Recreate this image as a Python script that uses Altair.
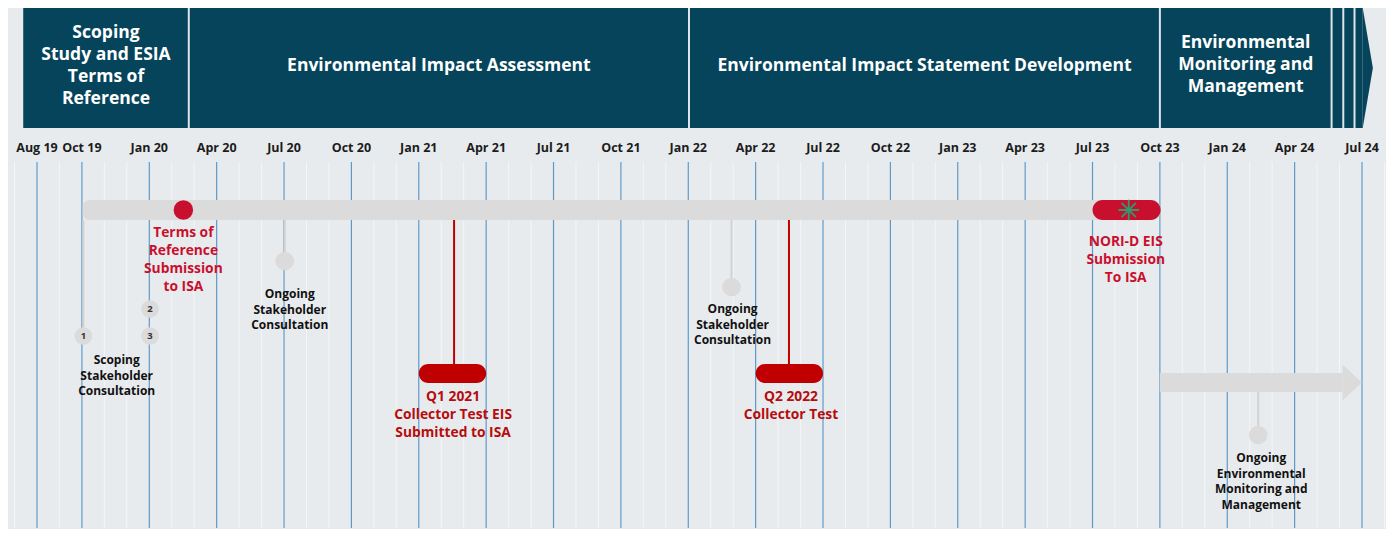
import calendar
import altair as alt
import pandas as pd

# ---------------------------------------------------------------- data
tick_labels = ["Aug 19", "Oct 19", "Jan 20", "Apr 20", "Jul 20", "Oct 20", "Jan 21",
               "Apr 21", "Jul 21", "Oct 21", "Jan 22", "Apr 22", "Jul 22", "Oct 22",
               "Jan 23", "Apr 23", "Jul 23", "Oct 23", "Jan 24", "Apr 24", "Jul 24"]
tick_dates = ["2019-08-01", "2019-10-01", "2020-01-01", "2020-04-01", "2020-07-01",
              "2020-10-01", "2021-01-01", "2021-04-01", "2021-07-01", "2021-10-01",
              "2022-01-01", "2022-04-01", "2022-07-01", "2022-10-01", "2023-01-01",
              "2023-04-01", "2023-07-01", "2023-10-01", "2024-01-01", "2024-04-01",
              "2024-07-01"]

phase_names = ["Scoping\nStudy and ESIA\nTerms of\nReference",
               "Environmental Impact Assessment",
               "Environmental Impact Statement Development",
               "Environmental\nMonitoring and\nManagement", "", "", ""]
phase_starts = ["2019-07-13", "2020-02-23", "2022-01-02", "2023-10-01",
                "2024-05-21", "2024-06-06", "2024-06-21"]
phase_ends = ["2020-02-23", "2022-01-02", "2023-10-01", "2024-05-21",
              "2024-06-06", "2024-06-21", "2024-07-02"]
phase_tip = "2024-07-16"

timeline_start = "2019-10-02"
timeline_end = "2023-10-01"
monitoring_start = "2023-10-01"
monitoring_head = "2024-06-05"
monitoring_end = "2024-07-01"

# milestones
tor_label = "Terms of\nReference\nSubmission\nto ISA"
tor_date = "2020-02-16"

test_labels = ["Q1 2021\nCollector Test EIS\nSubmitted to ISA", "Q2 2022\nCollector Test"]
test_dates = ["2021-02-17", "2022-05-16"]
test_window_start = ["2021-01-01", "2022-04-01"]
test_window_end = ["2021-04-01", "2022-07-01"]

nori_label = "NORI-D EIS\nSubmission\nTo ISA"
nori_date = "2023-08-20"
nori_window_start = "2023-07-01"
nori_window_end = "2023-10-02"

# consultations
scoping_numbers = ["1", "2", "3"]
scoping_dates = ["2019-10-03", "2020-01-02", "2020-01-02"]
scoping_label = "Scoping\nStakeholder\nConsultation"

ongoing_labels = ["Ongoing\nStakeholder\nConsultation",
                  "Ongoing\nStakeholder\nConsultation",
                  "Ongoing\nEnvironmental\nMonitoring and\nManagement"]
ongoing_dates = ["2020-07-02", "2022-02-27", "2024-02-12"]

# ---------------------------------------------------------------- style / layout
BG = "#e8ebed"
TEAL = "#05445b"
GAP = "#dfe6ea"
CRIMSON = "#c8102e"
RED = "#c00000"
GREY = "#dbdbdb"
STEM = "#d2d2d2"
BLUE = "#5e98c6"
FAINT = "#f3f5f6"
GREEN = "#2f9a6c"
FONT = "Open Sans"

W, H = 1378, 521
PX = 1325 / 59                     # pixels per month
X0 = -29 / PX
X1 = X0 + W / PX

Y_HEAD_TOP, Y_HEAD_BOT = 8, 128
header_first_line_y = [33, 66, 66, 43]
Y_TICK = 148
Y_GRID_TOP, Y_GRID_BOT = 162, 528
Y_BAR, BAR_H = 210, 20
Y_PILL, PILL_H = 373.5, 19
Y_ARROW, ARROW_H, HEAD_H = 382.5, 19, 36

scoping_circle_y = [336, 309, 336]
scoping_label_y = 360
ongoing_circle_y = [261, 287, 435]
ongoing_label_y = [294, 309, 458]
ongoing_label_dx = [5, 1, 3]
ongoing_stem_top = [Y_BAR + 10, Y_BAR + 10, Y_ARROW + 9]
tor_label_y = 233
nori_label_y = 242
nori_label_dx = -3
test_label_y = [397, 397]
test_label_dx = [-1, 2]


def mpos(d):
    y, m, dd = (int(v) for v in d.split("-"))
    return (y - 2019) * 12 + (m - 8) + (dd - 1) / calendar.monthrange(y, m)[1]


XS = alt.Scale(domain=[X0, X1], nice=False, zero=False)
YS = alt.Scale(domain=[8, 8 + H], reverse=True, nice=False, zero=False)


def X(f="x"):
    return alt.X(f"{f}:Q", scale=XS, axis=None)


def Y(f="y"):
    return alt.Y(f"{f}:Q", scale=YS, axis=None)


def txt(size, color, lh, **kw):
    return alt.Chart().mark_text(font=FONT, fontWeight="bold", fontSize=size, color=color,
                                 align="center", baseline="middle", lineBreak="\n",
                                 lineHeight=lh, **kw)


layers = []

# faint monthly lines
months = [m for m in range(-1, 61)]
layers.append(alt.Chart(pd.DataFrame({"x": months, "y": Y_GRID_TOP, "y2": Y_GRID_BOT}))
              .mark_rule(color=FAINT, strokeWidth=1)
              .encode(x=X(), y=Y(), y2="y2:Q"))

# quarterly blue lines
tick_df = pd.DataFrame({"x": [mpos(d) for d in tick_dates], "label": tick_labels,
                        "y": Y_GRID_TOP, "y2": Y_GRID_BOT, "yt": Y_TICK})
layers.append(alt.Chart(tick_df).mark_rule(color=BLUE, strokeWidth=1.2)
              .encode(x=X(), y=Y(), y2="y2:Q"))
layers.append(txt(12.5, "#1c1c1c", 15).properties(data=tick_df)
              .encode(x=X(), y=Y("yt"), text="label:N"))

# header phases
ph = pd.DataFrame({"x": [mpos(d) for d in phase_starts], "x2": [mpos(d) for d in phase_ends],
                   "name": phase_names, "y": Y_HEAD_TOP, "y2": Y_HEAD_BOT})
ph["xm"] = (ph["x"] + ph["x2"]) / 2
layers.append(alt.Chart(ph).mark_rect(color=TEAL).encode(x=X(), x2="x2:Q", y=Y(), y2="y2:Q"))
chev = pd.DataFrame({"x": [mpos(phase_ends[-1]), mpos(phase_tip)],
                     "y": [Y_HEAD_TOP, (Y_HEAD_TOP + Y_HEAD_BOT) / 2],
                     "y2": [Y_HEAD_BOT, (Y_HEAD_TOP + Y_HEAD_BOT) / 2]})
layers.append(alt.Chart(chev).mark_area(color=TEAL, orient="vertical")
              .encode(x=X(), y=Y(), y2="y2:Q"))
gaps = ph.iloc[1:]
layers.append(alt.Chart(gaps).mark_rule(color=GAP, strokeWidth=2)
              .encode(x=X(), y=Y(), y2="y2:Q"))
hdr = ph[ph["name"] != ""].copy()
hdr["ym"] = header_first_line_y
layers.append(txt(17.5, "white", 22).properties(data=hdr)
              .encode(x=X("xm"), y=Y("ym"), text="name:N"))

# main timeline bar
layers.append(alt.Chart(pd.DataFrame({"x": [mpos(timeline_start)], "x2": [mpos(timeline_end)],
                                      "y": [Y_BAR - BAR_H / 2], "y2": [Y_BAR + BAR_H / 2]}))
              .mark_rect(color=GREY, cornerRadius=7)
              .encode(x=X(), x2="x2:Q", y=Y(), y2="y2:Q"))

# monitoring arrow
layers.append(alt.Chart(pd.DataFrame({"x": [mpos(monitoring_start)], "x2": [mpos(monitoring_head)],
                                      "y": [Y_ARROW - ARROW_H / 2], "y2": [Y_ARROW + ARROW_H / 2]}))
              .mark_rect(color=GREY)
              .encode(x=X(), x2="x2:Q", y=Y(), y2="y2:Q"))
layers.append(alt.Chart(pd.DataFrame({"x": [mpos(monitoring_head), mpos(monitoring_end)],
                                      "y": [Y_ARROW - HEAD_H / 2, Y_ARROW],
                                      "y2": [Y_ARROW + HEAD_H / 2, Y_ARROW]}))
              .mark_area(color=GREY, orient="vertical")
              .encode(x=X(), y=Y(), y2="y2:Q"))

# grey stems and circles
sc = pd.DataFrame({"x": [mpos(d) for d in scoping_dates], "n": scoping_numbers,
                   "y": scoping_circle_y})
og = pd.DataFrame({"x": [mpos(d) for d in ongoing_dates], "label": ongoing_labels,
                   "y": ongoing_circle_y, "ytop": ongoing_stem_top,
                   "yl": ongoing_label_y, "dx": ongoing_label_dx})
stems = pd.concat([
    pd.DataFrame({"x": [sc["x"][0]], "y": [Y_BAR + BAR_H / 2], "y2": [sc["y"][0]]}),
    pd.DataFrame({"x": og["x"], "y": og["ytop"], "y2": og["y"]}),
])
layers.append(alt.Chart(stems).mark_rule(color=STEM, strokeWidth=2)
              .encode(x=X(), y=Y(), y2="y2:Q"))
layers.append(alt.Chart(sc).mark_circle(color=GREY, opacity=1, size=314)
              .encode(x=X(), y=Y()))
layers.append(alt.Chart(og).mark_circle(color=GREY, opacity=1, size=346)
              .encode(x=X(), y=Y()))
layers.append(txt(9.5, "#333333", 10).properties(data=sc)
              .encode(x=X(), y=Y(), text="n:N"))

# black labels
layers.append(txt(12, "#111111", 15.5).properties(
    data=pd.DataFrame({"x": [(sc["x"][0] + sc["x"][1]) / 2], "y": [scoping_label_y],
                       "label": [scoping_label]}))
    .encode(x=X(), y=Y(), text="label:N"))
for i in range(len(og)):
    layers.append(txt(12, "#111111", 15.5, dx=int(og["dx"][i])).properties(data=og.iloc[[i]])
                  .encode(x=X(), y=Y("yl"), text="label:N"))

# collector tests (red stems + pills)
td = pd.DataFrame({"x": [mpos(d) for d in test_dates],
                   "ws": [mpos(d) for d in test_window_start],
                   "we": [mpos(d) for d in test_window_end],
                   "label": test_labels, "yl": test_label_y, "dx": test_label_dx})
td["y"] = Y_BAR + BAR_H / 2
td["y2"] = Y_PILL
td["pt"] = Y_PILL - PILL_H / 2
td["pb"] = Y_PILL + PILL_H / 2
layers.append(alt.Chart(td).mark_rule(color=RED, strokeWidth=2)
              .encode(x=X(), y=Y(), y2="y2:Q"))
layers.append(alt.Chart(td).mark_rect(color=RED, cornerRadius=9.5)
              .encode(x=X("ws"), x2="we:Q", y=Y("pt"), y2="pb:Q"))
for i in range(len(td)):
    layers.append(txt(13.8, "#b50d0d", 18, dx=int(td["dx"][i])).properties(data=td.iloc[[i]])
                  .encode(x=X(), y=Y("yl"), text="label:N"))

# Terms of reference dot
tor = pd.DataFrame({"x": [mpos(tor_date)], "y": [Y_BAR], "yl": [tor_label_y], "label": [tor_label]})
layers.append(alt.Chart(tor).mark_circle(color=CRIMSON, opacity=1, size=380)
              .encode(x=X(), y=Y()))
layers.append(txt(13.8, CRIMSON, 18).properties(data=tor)
              .encode(x=X(), y=Y("yl"), text="label:N"))

# NORI-D submission
nori = pd.DataFrame({"x": [mpos(nori_date)], "ws": [mpos(nori_window_start)],
                     "we": [mpos(nori_window_end)], "y": [Y_BAR],
                     "pt": [Y_BAR - BAR_H / 2], "pb": [Y_BAR + BAR_H / 2],
                     "yl": [nori_label_y], "label": [nori_label]})
layers.append(alt.Chart(nori).mark_rect(color=CRIMSON, cornerRadius=10)
              .encode(x=X("ws"), x2="we:Q", y=Y("pt"), y2="pb:Q"))
ASTER = "M-1,0L1,0M0,-1L0,1M-0.7,-0.7L0.7,0.7M-0.7,0.7L0.7,-0.7"
layers.append(alt.Chart(nori).mark_point(shape=ASTER, filled=False, color=GREEN,
                                         strokeWidth=1.8, size=420, opacity=1)
              .encode(x=X(), y=Y()))
layers.append(txt(13.8, CRIMSON, 18, dx=nori_label_dx).properties(data=nori)
              .encode(x=X(), y=Y("yl"), text="label:N"))

chart = (alt.layer(*layers)
         .properties(width=W, height=H, padding=0,
                     autosize=alt.AutoSizeParams(type="none"))
         .configure(background=BG)
         .configure_view(strokeWidth=0))

chart.save("out.html", embed_options={"renderer": "svg", "actions": False})
